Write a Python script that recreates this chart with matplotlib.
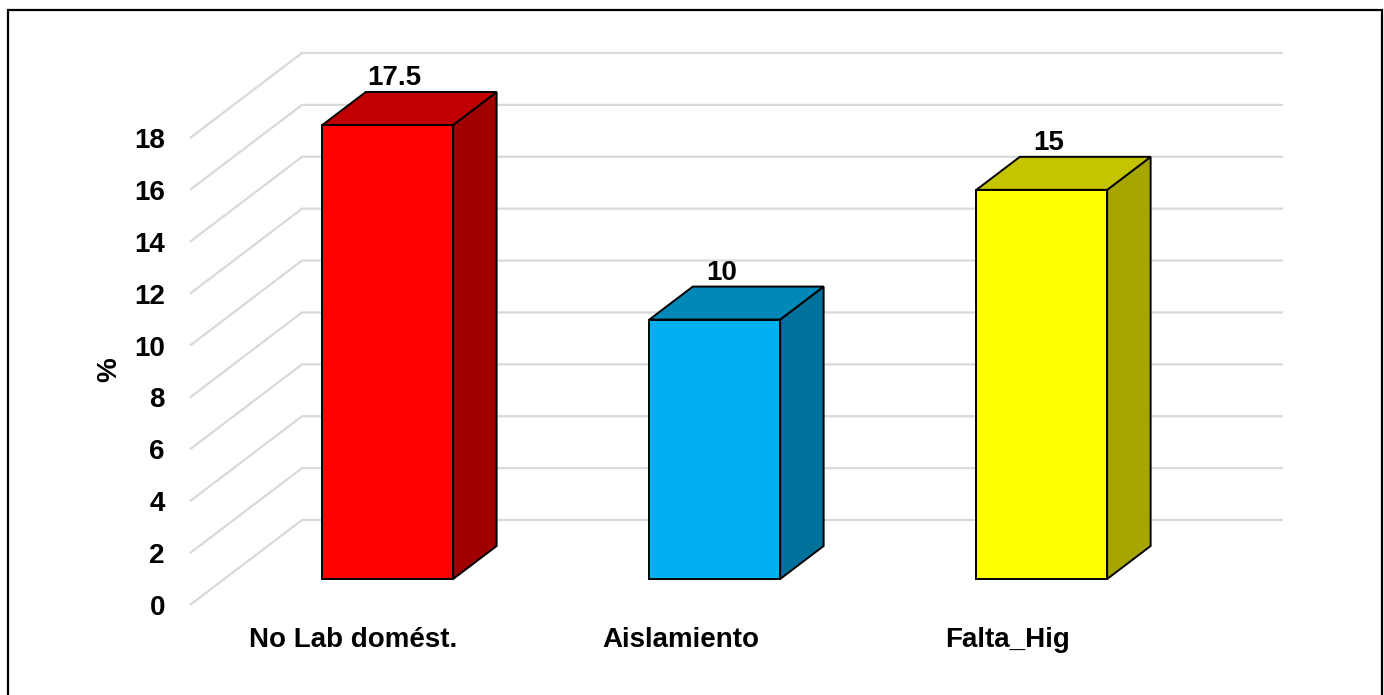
import matplotlib.pyplot as plt
from matplotlib.patches import Polygon, Rectangle
import numpy as np

plt.rcParams['font.family'] = ['Liberation Sans', 'DejaVu Sans']
plt.rcParams['font.weight'] = 'bold'

# data
categories = ['No Lab domést.', 'Aislamiento', 'Falta_Hig']
values = [17.5, 10, 15]
yticks = list(range(0, 19, 2))

front_colors = ['#FF0000', '#00B0F0', '#FFFF00']
top_colors = ['#C00000', '#0088B8', '#C4C400']
side_colors = ['#A00000', '#00719A', '#A6A600']

# oblique projection: depth 0..1 shifts points right and up
DX = 112 / 327
DY = 85 / 25.94
BAR_W = 0.4
D0, D1 = 0.306, 0.694
GRID = '#D9D9D9'

W, H = 1384, 695
fig = plt.figure(figsize=(W / 100, H / 100), dpi=100)
ax = fig.add_axes([190 / W, (H - 605) / H, (1283 - 190) / W, (605 - 53) / H])
ax.set_xlim(0, 3 + DX)
ax.set_ylim(0, 18 + DY)
for s in ax.spines.values():
    s.set_visible(False)


def proj(x, v, d):
    return (x + d * DX, v + d * DY)


# walls: diagonal on the side wall, horizontal on the back wall
for v in yticks:
    x0, y0 = proj(0, v, 0)
    x1, y1 = proj(0, v, 1)
    x2, y2 = proj(3, v, 1)
    ax.plot([x0, x1, x2], [y0, y1, y2], color=GRID, lw=1.6, zorder=1,
            clip_on=False, solid_capstyle='butt')

# 3d bars
xs = np.arange(len(categories)) + 0.5
for i, (c, val) in enumerate(zip(xs, values)):
    l, r = c - BAR_W / 2, c + BAR_W / 2
    front = [proj(l, 0, D0), proj(r, 0, D0), proj(r, val, D0), proj(l, val, D0)]
    top = [proj(l, val, D0), proj(r, val, D0), proj(r, val, D1), proj(l, val, D1)]
    side = [proj(r, 0, D0), proj(r, 0, D1), proj(r, val, D1), proj(r, val, D0)]
    for pts, col in [(side, side_colors[i]), (top, top_colors[i]), (front, front_colors[i])]:
        ax.add_patch(Polygon(pts, closed=True, facecolor=col, edgecolor='black',
                             lw=1.4, joinstyle='miter', zorder=3, clip_on=False))
    lx, ly = proj(c, val, D0)
    ax.text(lx + 0.02, ly + 1.8, f'{val:g}', ha='center', va='center',
            fontsize=20, fontweight='bold', zorder=5)

ax.set_yticks(yticks)
ax.set_yticklabels([str(t) for t in yticks])
ax.set_xticks(xs)
ax.set_xticklabels(categories)
ax.tick_params(axis='y', length=0, pad=18, labelsize=20)
ax.tick_params(axis='x', length=0, pad=16, labelsize=20)
for lab in ax.get_xticklabels() + ax.get_yticklabels():
    lab.set_fontweight('bold')

ax.set_ylabel('%', fontsize=20, fontweight='bold')
ax.yaxis.set_label_coords(-0.062, 0.426)

# chart border
fig.add_artist(Rectangle((8 / W, -0.05), (1382 - 8) / W, 1.05 - 10 / H,
                         transform=fig.transFigure, fill=False,
                         edgecolor='black', lw=1.6))

fig.savefig('out.png', dpi=100)
